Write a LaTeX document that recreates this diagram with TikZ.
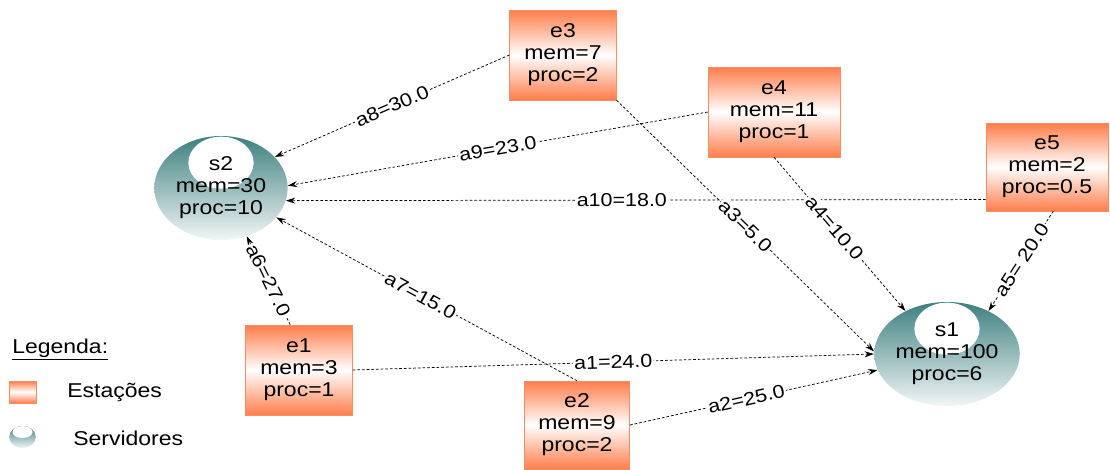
\documentclass[tikz,border=0pt]{standalone}
\usepackage{fontspec}
\setmainfont{Liberation Sans}[FakeStretch=1.15]
\usetikzlibrary{shapes.geometric,arrows.meta}

\definecolor{stationorange}{RGB}{255,125,75}
\definecolor{stationedge}{RGB}{245,140,100}
\definecolor{serverteal}{RGB}{62,128,128}
\definecolor{serverlight}{RGB}{242,246,246}

\newcommand\stnfont{\fontsize{15pt}{16.5pt}\selectfont}
\newcommand\wtfont{\fontsize{14pt}{15pt}\selectfont}
\newcommand\legfont{\fontsize{15pt}{16.5pt}\selectfont}

\tikzset{
  station/.style={rectangle, draw=stationedge, line width=0.4pt,
    top color=stationorange, bottom color=stationorange, middle color=white,
    align=center, font=\stnfont, inner sep=0pt},
  serverbody/.style={ellipse, top color=serverteal, bottom color=serverlight,
    inner sep=0pt, align=center, font=\stnfont},
  server/.style={serverbody, minimum width=100pt, minimum height=78pt,
    path picture={\fill[white] ([yshift=-20pt]path picture bounding box.north)
      ellipse[x radius=24.5pt, y radius=19.5pt];}},
  link/.style={line width=0.55pt, dash pattern=on 2pt off 1.5pt,
    -{Stealth[length=7pt,width=4.5pt]}},
  weight/.style={fill=white, inner sep=1pt, sloped, font=\wtfont}
}

\begin{document}
\begin{tikzpicture}[x=0.75pt, y=-0.75pt]
\useasboundingbox (0,0) rectangle (1110,469);

% servers
\node[server] (s2) at (221,188) {s2\\mem=30\\proc=10};
\node[server] (s1) at (947,354) {s1\\mem=100\\proc=6};

% stations
\node[station, minimum width=80pt, minimum height=67.5pt] (e3) at (563,55) {e3\\mem=7\\proc=2};
\node[station, minimum width=99pt, minimum height=67.5pt] (e4) at (774,112) {e4\\mem=11\\proc=1};
\node[station, minimum width=91.5pt, minimum height=66pt] (e5) at (1047,167) {e5\\mem=2\\proc=0.5};
\node[station, minimum width=80pt, minimum height=67.5pt] (e1) at (299,370) {e1\\mem=3\\proc=1};
\node[station, minimum width=79pt, minimum height=66pt] (e2) at (577,425) {e2\\mem=9\\proc=2};

% links towards s2
\draw[link] (e3.west) -- node[weight, pos=.5] {a8=30.0} (s2.30);
\draw[link] (e4.west) -- node[weight, pos=.5] {a9=23.0} (s2.2);
\draw[link] (e5.208) -- node[weight, pos=.52] {a10=18.0} (s2.-11);
\draw[link] (e2.north) -- node[weight, pos=.52] {a7=15.0} (s2.-28);
\draw[link] (e1.101) -- node[weight, pos=.5] {a6=27.0} (s2.-62);

% links towards s1
\draw[link] (e1.east) -- node[weight, pos=.5] {a1=24.0} (s1.180);
\draw[link] (e2.east) -- node[weight, pos=.47] {a2=25.0} (s1.193);
\draw[link] (e3.south east) -- node[weight, pos=.5] {a3=5.0} (s1.178);
\draw[link] (e4.south) -- node[weight, pos=.46] {a4=10.0} (s1.134);
\draw[link] (e5.-82) -- node[weight, pos=.49] {a5= 20.0} (s1.46);

% legend
\node[anchor=base west, font=\legfont, inner sep=0pt] (legtitle) at (12,353) {\underline{Legenda:}};
\node[station, minimum width=20pt, minimum height=16.5pt] (legst) at (22.5,392) {};
\node[anchor=west, font=\legfont, inner sep=0pt] (legsttext) at (67,392) {Estações};
\node[serverbody, minimum width=20pt, minimum height=16.5pt,
  path picture={\fill[white] ([yshift=-4.5pt]path picture bounding box.north)
    ellipse[x radius=7.5pt, y radius=4.5pt];}] (legsv) at (22.5,437) {};
\node[anchor=west, font=\legfont, inner sep=0pt] (legsvtext) at (73,438) {Servidores};
\end{tikzpicture}
\end{document}
